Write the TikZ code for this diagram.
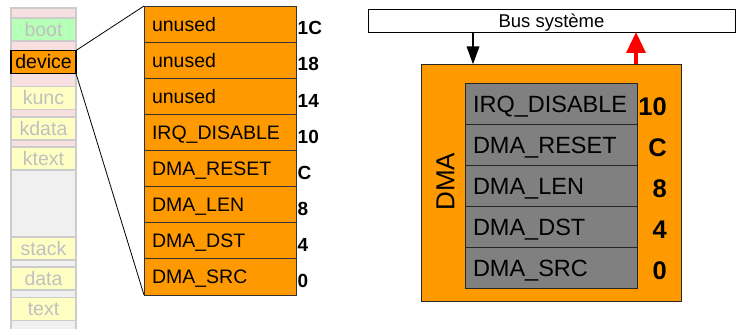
\documentclass[tikz,border=0pt]{standalone}
\usepackage{fontspec}
\setmainfont{Liberation Sans}
\usetikzlibrary{arrows.meta}
\definecolor{dmaorange}{RGB}{255,153,0}
\definecolor{reggray}{RGB}{128,128,128}
\definecolor{bootgreen}{RGB}{182,255,182}
\definecolor{segyellow}{RGB}{255,255,196}
\definecolor{segpink}{RGB}{248,224,224}
\definecolor{seggray}{RGB}{240,240,240}
\definecolor{segtext}{RGB}{192,192,192}
\definecolor{segborder}{RGB}{204,204,204}
\tikzset{
  memseg/.style={rectangle, draw=segborder, line width=1.2pt, fill=segyellow, text=segtext,
    minimum width=65, minimum height=23, inner sep=0, outer sep=0,
    text height=13.96pt, text depth=0pt},
  regrow/.style={rectangle, draw=black!80, line width=0.8pt, fill=dmaorange,
    minimum width=152, minimum height=36.125, inner xsep=8, inner ysep=0, outer sep=0,
    text width=136, align=left, text height=13.96pt, text depth=0pt, anchor=north west},
  regoff/.style={font=\fontsize{19}{21}\selectfont\bfseries, anchor=west, inner sep=0,
    text height=13.6pt, text depth=0pt},
  dmarow/.style={rectangle, draw=black!85, line width=0.8pt, fill=reggray,
    minimum width=172.3, minimum height=41, inner xsep=8, inner ysep=0, outer sep=0,
    text width=156.3, align=left, text height=16.8pt, text depth=0pt, anchor=north west,
    font=\fontsize{23.5}{25}\selectfont},
  dmaoff/.style={font=\fontsize{25.5}{27}\selectfont\bfseries, anchor=east, inner sep=0,
    text height=18.3pt, text depth=0pt},
}
\begin{document}
\begin{tikzpicture}[x=1pt,y=-1pt, font=\fontsize{19.5}{22}\selectfont]
\useasboundingbox (0,0) rectangle (736,329);
% memory column
\fill[segpink] (11,8) rectangle (76,170);
\fill[seggray] (11,170) rectangle (76,331);
\draw[segborder, line width=1.2pt] (11,331) -- (11,8) -- (76,8) -- (76,331);
\node[memseg, fill=bootgreen] (boot) at (43.5,29.5) {boot};
\node[memseg, fill=dmaorange, draw=black, text=black] (device) at (43.5,62) {device};
\node[memseg] (kunc) at (43.5,98) {kunc};
\node[memseg] (kdata) at (43.5,128.5) {kdata};
\node[memseg] (ktext) at (43.5,158.5) {ktext};
\node[memseg] (stack) at (43.5,248.5) {stack};
\node[memseg] (data) at (43.5,278.5) {data};
\node[memseg] (text) at (43.5,309) {text};
% register table
\node[regrow] (r1) at (144,6) {unused};
\node[regrow] (r2) at (144,42.125) {unused};
\node[regrow] (r3) at (144,78.25) {unused};
\node[regrow] (r4) at (144,114.375) {IRQ\_DISABLE};
\node[regrow] (r5) at (144,150.5) {DMA\_RESET};
\node[regrow] (r6) at (144,186.625) {DMA\_LEN};
\node[regrow] (r7) at (144,222.75) {DMA\_DST};
\node[regrow] (r8) at (144,258.875) {DMA\_SRC};
\foreach \r/\t in {r1/1C,r2/18,r3/14,r4/10,r5/C,r6/8,r7/4,r8/0}{
  \node[regoff] (o\r) at ([xshift=1.5,yshift=-4]\r.east) {\t};
}
\draw[line width=0.8pt] (device.north east) -- (r1.north west);
\draw[line width=0.8pt] (device.south east) -- (r8.south west);
% right side
\node[rectangle, draw=black, line width=0.8pt, fill=white, minimum width=367, minimum height=23,
  inner sep=0, outer sep=0, anchor=north west, font=\fontsize{18.5}{20}\selectfont,
  text height=13.2pt, text depth=0pt] (bus) at (368,9) {Bus système};
\node[rectangle, draw=black!85, line width=0.8pt, fill=dmaorange, minimum width=259.3,
  minimum height=237.4, inner sep=0, outer sep=0, anchor=north west] (dma) at (421.7,64.3) {};
\node[rotate=90, font=\fontsize{26}{28}\selectfont, inner sep=0, text height=18.6pt, text depth=0pt]
  (dmalabel) at (445,181.7) {DMA};
\node[dmarow] (d1) at (465,83.3) {IRQ\_DISABLE};
\node[dmarow] (d2) at (465,124.3) {DMA\_RESET};
\node[dmarow] (d3) at (465,165.3) {DMA\_LEN};
\node[dmarow] (d4) at (465,206.3) {DMA\_DST};
\node[dmarow] (d5) at (465,247.3) {DMA\_SRC};
\foreach \r/\t in {d1/10,d2/C,d3/8,d4/4,d5/0}{
  \node[dmaoff] (o\r) at ([yshift=-2.5]\r.east -| 667,0) {\t};
}
\coordinate (bx) at (473,0);
\coordinate (rx) at (636,0);
\draw[line width=2pt, -{Triangle[width=12.5,length=18]}] (bx |- bus.south) -- (bx |- dma.north);
\draw[red, line width=3.5pt, -{Triangle[width=19,length=21]}] (rx |- dma.north) -- (rx |- bus.south);
\end{tikzpicture}
\end{document}
